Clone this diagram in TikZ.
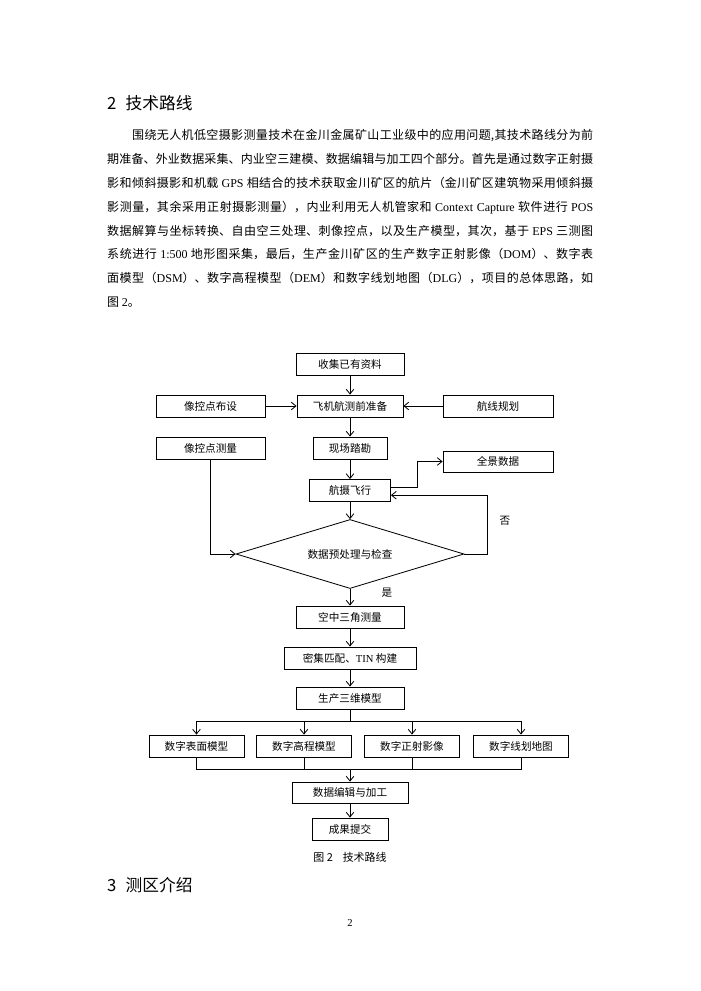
\documentclass[tikz,border=0pt]{standalone}
\usepackage{fontspec}
\setmainfont{Noto Sans CJK SC}
\newfontfamily\lat{Liberation Serif}
\usetikzlibrary{arrows.meta,shapes.geometric}
\XeTeXlinebreaklocale "zh"
\XeTeXlinebreakskip=0pt plus 1pt
\begin{document}
\begin{tikzpicture}[x=0.8492pt,y=-0.8492pt,
  box/.style={draw, line width=0.7pt, inner sep=0pt, minimum height=18.7pt, font=\fontsize{9}{10}\selectfont},
  wd/.style={minimum width=#1*0.8492pt},
  arr/.style={line width=0.7pt, -{Straight Barb[length=4pt,width=6.5pt]}},
  ln/.style={line width=0.7pt},
  lbl/.style={inner sep=0pt, font=\fontsize{9}{10}\selectfont},
  head/.style={anchor=west, inner sep=0pt, font=\fontsize{14.2}{16}\selectfont}]
\useasboundingbox[fill=white] (0,0) rectangle (701,991);

% headings and text
\node[head] (h2) at (107,103) {2\hspace{0.55em}技术路线};
\node[anchor=north west, inner sep=0pt, text width=412.7pt, align=justify,
      font=\fontsize{10.2}{20.3}\selectfont] (body) at (107,129)
{\parindent=0pt\hspace*{21.2pt}围绕无人机低空摄影测量技术在金川金属矿山工业级中的应用问题,其技术路线分为前\linebreak
期准备、外业数据采集、内业空三建模、数据编辑与加工四个部分。首先是通过数字正射摄\linebreak
影和倾斜摄影和机载 {\lat GPS} 相结合的技术获取金川矿区的航片（金川矿区建筑物采用倾斜摄\linebreak
影测量，其余采用正射摄影测量），内业利用无人机管家和 {\lat Context Capture} 软件进行 {\lat POS}\linebreak
数据解算与坐标转换、自由空三处理、刺像控点，以及生产模型，其次，基于 {\lat EPS} 三测图\linebreak
系统进行 {\lat 1:500} 地形图采集，最后，生产金川矿区的生产数字正射影像（{\lat DOM}）、数字表\linebreak
面模型（{\lat DSM}）、数字高程模型（{\lat DEM}）和数字线划地图（{\lat DLG}），项目的总体思路，如\linebreak
图 {\lat 2}。\par};

% flowchart nodes
\node[box, wd=108] (sj) at (350,364) {收集已有资料};
\node[box, wd=106] (fj) at (350,406) {飞机航测前准备};
\node[box, wd=109] (xkbs) at (210.5,406) {像控点布设};
\node[box, wd=110] (hxgh) at (498,406) {航线规划};
\node[box, wd=109] (xkcl) at (210.5,448) {像控点测量};
\node[box, wd=74] (xckc) at (350,448) {现场踏勘};
\node[box, wd=110, minimum height=17.8pt] (qjsj) at (498,461.5) {全景数据};
\node[box, wd=81] (hsfx) at (350,490.5) {航摄飞行};
\node[draw, diamond, line width=0.7pt, inner sep=0pt, aspect=3.3,
      minimum width=228*0.8492pt, minimum height=69*0.8492pt,
      font=\fontsize{9}{10}\selectfont] (pd) at (350,554) {数据预处理与检查};
\node[box, wd=108] (kzsj) at (350,617) {空中三角测量};
\node[box, wd=132] (mjpp) at (350,658) {密集匹配、{\lat TIN} 构建};
\node[box, wd=108] (scsw) at (350,698) {生产三维模型};
\node[box, wd=95] (m1) at (196.5,746) {数字表面模型};
\node[box, wd=95] (m2) at (304,746) {数字高程模型};
\node[box, wd=95] (m3) at (412,746) {数字正射影像};
\node[box, wd=95] (m4) at (521,746) {数字线划地图};
\node[box, wd=116, minimum height=17.8pt] (bj) at (350,792.5) {数据编辑与加工};
\node[box, wd=76] (cg) at (350,829) {成果提交};

\node[lbl] (no) at (505,521) {否};
\node[lbl] (yes) at (387,593) {是};

\coordinate (sp) at (350,721);
\coordinate (jp) at (350,769);

% connectors
\draw[arr] (sj) -- (fj);
\draw[arr] (xkbs) -- (fj);
\draw[arr] (hxgh) -- (fj);
\draw[arr] (fj) -- (xckc);
\draw[arr] (xckc) -- (hsfx);
\draw[arr] ([yshift=3pt]hsfx.east) -- ++(26,0) |- (qjsj.west);
\draw[arr] (pd.east) -- ++(23,0) |- ([yshift=-4pt]hsfx.east);
\draw[arr] (hsfx) -- (pd);
\draw[arr] (xkcl.south) |- (pd.west);
\draw[arr] (pd) -- (kzsj);
\draw[arr] (kzsj) -- (mjpp);
\draw[arr] (mjpp) -- (scsw);
\draw[ln] (scsw) -- (sp);
\draw[arr] (sp) -| (m1.north);
\draw[arr] (sp) -| (m2.north);
\draw[arr] (sp) -| (m3.north);
\draw[arr] (sp) -| (m4.north);
\draw[ln] (m1.south) |- (jp);
\draw[ln] (m2.south) |- (jp);
\draw[ln] (m3.south) |- (jp);
\draw[ln] (m4.south) |- (jp);
\draw[arr] (jp) -- (bj);
\draw[arr] (bj) -- (cg);

% caption, next heading, page number
\node[inner sep=0pt, font=\fontsize{9.3}{10}\selectfont] (cap) at (350,857) {图 2\hspace{0.9em}技术路线};
\node[head] (h3) at (107,885) {3\hspace{0.55em}测区介绍};
\node[inner sep=0pt, font=\lat\fontsize{9}{10}\selectfont] (pg) at (350,923) {2};
\end{tikzpicture}
\end{document}
